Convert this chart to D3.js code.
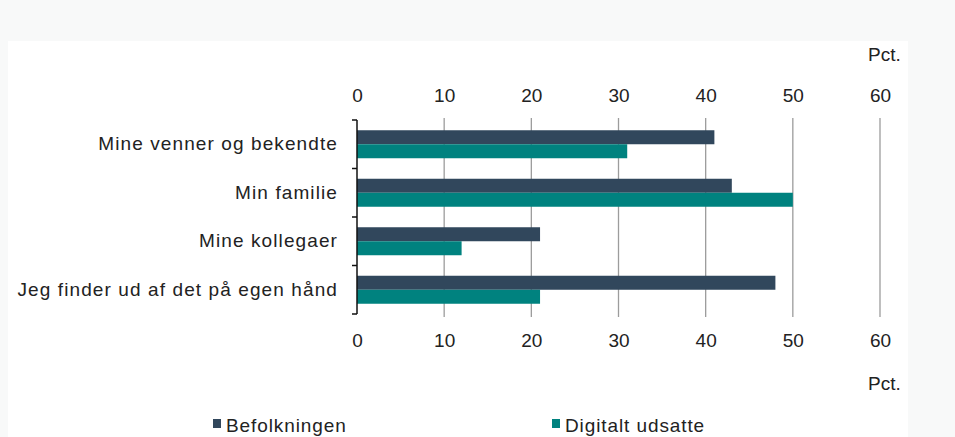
<!DOCTYPE html>
<html><head><meta charset="utf-8">
<script src="https://cdnjs.cloudflare.com/ajax/libs/d3/7.8.5/d3.min.js"></script>
<style>
html,body{margin:0;padding:0;background:#f8f9f9;}
svg{display:block;}
text{font-family:"Liberation Sans",Arial,sans-serif;fill:#222;}
</style></head>
<body><svg id="c" width="955" height="437"></svg>
<script>
const categories = ["Mine venner og bekendte","Min familie","Mine kollegaer","Jeg finder ud af det på egen hånd"];
const seriesNames = ["Befolkningen","Digitalt udsatte"];
const befolkningen = [41,43,21,48];
const digitaltUdsatte = [31,50,12,21];
const tickValues = [0,10,20,30,40,50,60];
const unitLabel = "Pct.";
const colors = ["#31475c","#00827f"];

const svg = d3.select("#c");
svg.append("rect").attr("x",8).attr("y",41).attr("width",900).attr("height",396).attr("fill","#ffffff");

const x = d3.scaleLinear().domain([0,60]).range([357,880]);
const y = d3.scaleBand().domain(categories).range([120,314]);
const inner = d3.scaleBand().domain(seriesNames).range([0,28]);
const groupOff = (y.bandwidth()-28)/2;

// gridlines
svg.append("g").selectAll("line").data(tickValues.filter(d=>d>0)).join("line")
  .attr("x1",d=>x(d)).attr("x2",d=>x(d)).attr("y1",118).attr("y2",317)
  .attr("stroke","#9c9c9c").attr("stroke-width",1.3);

// bars
const data = [befolkningen,digitaltUdsatte];
seriesNames.forEach((s,si)=>{
  svg.append("g").selectAll("rect").data(categories).join("rect")
    .attr("x",x(0))
    .attr("y",(c)=>y(c)+groupOff+inner(s))
    .attr("width",(c,i)=>x(data[si][i])-x(0))
    .attr("height",inner.bandwidth())
    .attr("fill",colors[si]);
});

// top and bottom axes
const axTop = d3.axisTop(x).tickValues(tickValues).tickSize(0).tickPadding(0);
const gt = svg.append("g").attr("transform","translate(0,102)").call(axTop);
gt.select(".domain").remove();
gt.selectAll("text").style("font-size","19px").attr("font-family","Liberation Sans, Arial, sans-serif").attr("fill","#222");
const axBot = d3.axisBottom(x).tickValues(tickValues).tickSize(0).tickPadding(0);
const gb = svg.append("g").attr("transform","translate(0,333)").call(axBot);
gb.select(".domain").remove();
gb.selectAll("text").style("font-size","19px").attr("font-family","Liberation Sans, Arial, sans-serif").attr("fill","#222");

// left axis
const axLeft = d3.axisLeft(y).tickSize(0).tickPadding(19);
const gl = svg.append("g").attr("transform",`translate(${x(0)},0)`).call(axLeft);
gl.select(".domain").remove();
gl.selectAll("text").style("font-size","19px").style("letter-spacing","1.1px").attr("font-family","Liberation Sans, Arial, sans-serif").attr("fill","#222");
svg.append("line").attr("x1",x(0)).attr("x2",x(0)).attr("y1",y.range()[0]).attr("y2",y.range()[1]).attr("stroke","#111").attr("stroke-width",1.5);
const bounds = categories.map(c=>y(c)).concat([y.range()[1]]);
svg.append("g").selectAll("line").data(bounds).join("line")
  .attr("x1",x(0)-5).attr("x2",x(0)).attr("y1",d=>d).attr("y2",d=>d).attr("stroke","#111").attr("stroke-width",1.5);

// Pct labels
svg.append("text").attr("x",868).attr("y",61).text(unitLabel).style("font-size","19px");
svg.append("text").attr("x",868).attr("y",390).text(unitLabel).style("font-size","19px");

// legend
const legX = [213,552];
seriesNames.forEach((s,i)=>{
  svg.append("rect").attr("x",legX[i]).attr("y",419).attr("width",8).attr("height",9).attr("fill",colors[i]);
  svg.append("text").attr("x",legX[i]+13).attr("y",432).text(s).style("font-size","19px").style("letter-spacing","0.9px");
});
</script></body></html>
